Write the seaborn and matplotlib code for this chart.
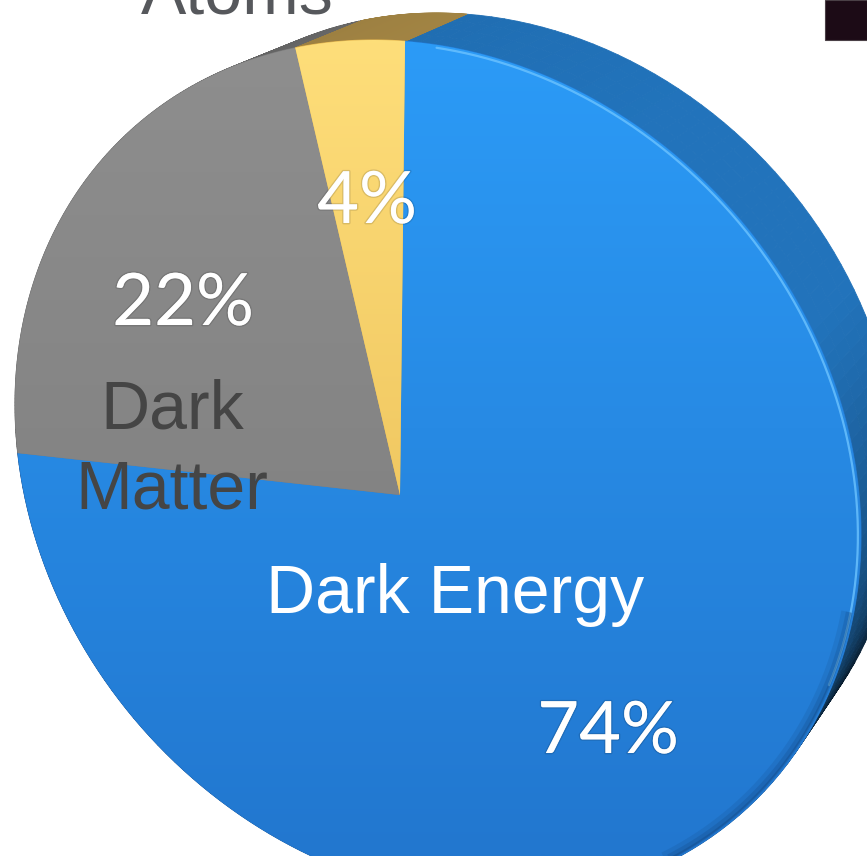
import numpy as np
import matplotlib
matplotlib.use("Agg")
import matplotlib.pyplot as plt
import seaborn as sns
from matplotlib.path import Path
from matplotlib.transforms import Transform, Affine2D
from matplotlib.collections import PolyCollection
from matplotlib.patches import Rectangle
from matplotlib.colors import to_rgb
import matplotlib.patheffects as pe

# ---- data -------------------------------------------------------------
components = ["Dark Energy", "Dark Matter", "Atoms"]
shares = [74, 22, 4]
face_top = ["#2c9df9", "#8f8f8f", "#ffe07c"]
face_bottom = ["#2277cf", "#7b7b7b", "#e6b74f"]
wall_base = ["#2a90ea", "#8a8a8a", "#d4ad58"]

# ---- canvas -----------------------------------------------------------
W, H = 867, 856
sns.set_style("white")
plt.rcParams["font.family"] = ["Liberation Sans", "DejaVu Sans"]

fig = plt.figure(figsize=(W / 100, H / 100), dpi=100)
ax = fig.add_axes([0, 0, 1, 1])


# ---- tilted-disc projection (unit pie -> pixel space) -----------------
class DiscProjection(Transform):
    input_dims = output_dims = 2
    is_separable = False
    has_inverse = False

    def __init__(self, matrix):
        super().__init__()
        self._m = np.asarray(matrix, float)

    def transform_non_affine(self, values):
        v = np.atleast_2d(np.asarray(values, float))
        h = np.column_stack([v, np.ones(len(v))]) @ self._m.T
        return h[:, :2] / h[:, 2:3]

    def transform_path_non_affine(self, path):
        # flatten curves finely before projecting
        pts = []
        for seg, code in path.iter_bezier(simplify=False):
            cp = seg.control_points
            if code == Path.MOVETO or len(cp) == 1:
                pts.append(cp[0])
            elif len(cp) == 2:
                pts.append(cp[-1])
            else:
                pts.extend(seg(np.linspace(0, 1, 40))[1:])
        pts = np.asarray(pts)
        return Path(self.transform_non_affine(pts))


ELL_CX, ELL_CY, ELL_RX, ELL_RY, ELL_SHEAR = 438.0, 470.0, 418.0, 430.0, 0.15
APEX = (400.0, 495.0)
ROT = np.deg2rad(-9.6)

A = np.array([[ELL_RX, -ELL_SHEAR * ELL_RY, ELL_CX],
              [0.0, -ELL_RY, ELL_CY],
              [0.0, 0.0, 1.0]])
p = np.linalg.solve(A, [APEX[0], APEX[1], 1.0])[:2]
r = np.hypot(*p)
n = p / r
g = 1.0 / np.sqrt(1.0 - r * r)
B = np.eye(3)
B[:2, :2] += (g - 1.0) * np.outer(n, n)
B[:2, 2] = g * r * n
B[2, :2] = g * r * n
B[2, 2] = g
R = np.array([[np.cos(ROT), -np.sin(ROT), 0], [np.sin(ROT), np.cos(ROT), 0], [0, 0, 1]])
proj = DiscProjection(A @ B @ R)

# back face of the disc: slightly smaller and pushed up-right
extrude = Affine2D().translate(-ELL_CX, -ELL_CY).scale(0.95).translate(ELL_CX + 60, ELL_CY - 48.5)

# ---- pie ----------------------------------------------------------------
wedges, _ = ax.pie(shares, colors=wall_base, startangle=90, counterclock=False,
                   radius=1.0, center=(0, 0), wedgeprops=dict(linewidth=0))


def wall_shade(phi):
    phi = (np.asarray(phi) + 180.0) % 360.0 - 180.0
    return np.interp(phi, [-180, -90, -40, -25, -10, 5, 30, 60, 90, 120, 180],
                     [0.12, 0.12, 0.15, 0.28, 0.5, 0.62, 0.8, 0.8, 0.76, 0.72, 0.7])


# side wall of the disc, built from each wedge's angular range
polys, cols = [], []
depth = np.linspace(0, 1, 5)
for w, base in zip(wedges, wall_base):
    a = np.deg2rad(np.linspace(w.theta1, w.theta2, 160))
    front = proj.transform(np.column_stack([np.cos(a), np.sin(a)]))
    back = extrude.transform(front)
    rgb = np.array(to_rgb(base))
    for i in range(len(a) - 1):
        phi = np.rad2deg(0.5 * (a[i] + a[i + 1]))
        f = float(wall_shade(phi))
        k = 0.45 * np.clip((20.0 - ((phi + 180) % 360 - 180)) / 40.0, 0, 1)
        for j in range(len(depth) - 1):
            t0, t1 = depth[j], depth[j + 1]
            q = [front[i] + t0 * (back[i] - front[i]),
                 front[i + 1] + t0 * (back[i + 1] - front[i + 1]),
                 front[i + 1] + t1 * (back[i + 1] - front[i + 1]),
                 front[i] + t1 * (back[i] - front[i])]
            polys.append(q)
            tm = 0.5 * (t0 + t1)
            cols.append(np.clip(rgb * f * (1 - k * tm), 0, 1))
wall = PolyCollection(polys, facecolors=cols, edgecolors=cols, linewidths=0.6, zorder=1)
ax.add_collection(wall)

# front face with soft vertical gradients
yy = np.linspace(0, 1, 256)[:, None, None]
for w, top, bot in zip(wedges, face_top, face_bottom):
    w.set_transform(proj + ax.transData)
    w.set_facecolor(bot)
    w.set_edgecolor(bot)
    w.set_linewidth(0.8)
    w.set_zorder(2)
    grad = (1 - yy) * np.array(to_rgb(top)) + yy * np.array(to_rgb(bot))
    im = ax.imshow(grad, extent=(0, W, H, 0), aspect="auto", zorder=2.5,
                   interpolation="bilinear")
    im.set_clip_path(w)

# light rim along the upper-right edge of the face
rim = np.deg2rad(np.linspace(-15, 86, 300))
ax.plot(np.cos(rim) * 0.994, np.sin(rim) * 0.994, color="#6cc3ff", lw=1.6, alpha=0.8,
        transform=proj + ax.transData, zorder=3, solid_capstyle="round")

# soft shading just inside the lower-right edge of the face
shade = np.deg2rad(np.linspace(-80, -5, 300))
for rr, lw_, al in [(0.985, 7, 0.10), (0.99, 4, 0.14), (0.995, 2, 0.2)]:
    ax.plot(np.cos(shade) * rr, np.sin(shade) * rr, color="#0a2a55", lw=lw_, alpha=al,
            transform=proj + ax.transData, zorder=3, solid_capstyle="butt")

# ---- labels -------------------------------------------------------------
name_style = dict(fontsize=49, ha="center", va="baseline", zorder=5,
                  family=["Liberation Sans", "DejaVu Sans"])
ax.text(237, 13, components[2], color="#56585c", **name_style)
dm_first, dm_second = components[1].split(" ")
ax.text(172, 428, dm_first, color="#454545", **name_style)
ax.text(172, 508, dm_second, color="#454545", **name_style)
ax.text(455, 613, components[0], color="white", **name_style)

pct_pos = [(608, 753), (183, 325), (367, 223)]
for v, (x, y) in zip(shares, pct_pos):
    ax.text(x, y, f"{v}%", fontsize=52, ha="center", va="baseline", color="white",
            family=["Lato", "DejaVu Sans"], weight="normal", zorder=5,
            path_effects=[pe.withStroke(linewidth=2, foreground=(0, 0, 0, 0.12))])

# dark corner block
ax.add_patch(Rectangle((825, 0), 42, 40, facecolor="#1c0b16", edgecolor="#4a4046",
                       linewidth=0.8, zorder=6))

ax.set_aspect("auto")
ax.set_xlim(0, W)
ax.set_ylim(H, 0)
ax.axis("off")
fig.savefig("out.png", dpi=100, facecolor="white")
